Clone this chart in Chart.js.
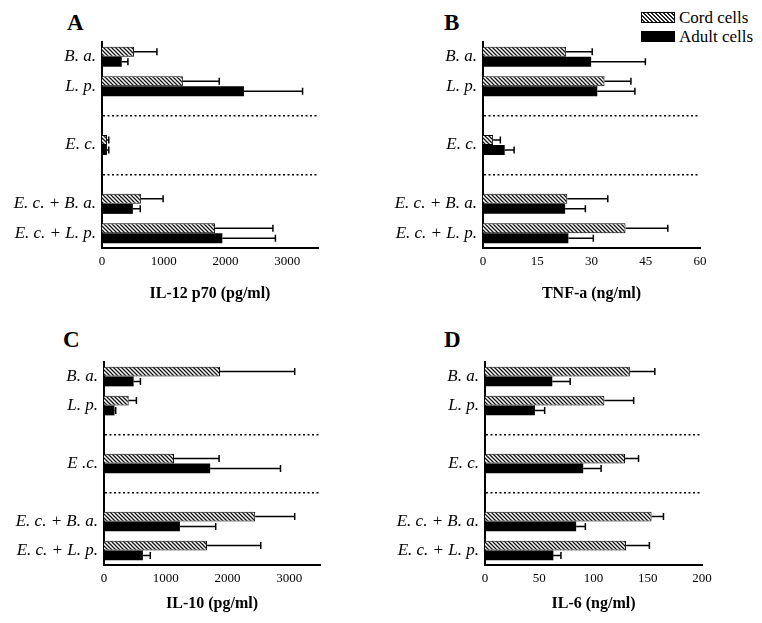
<!DOCTYPE html>
<html lang="en">
<head>
  <meta charset="UTF-8" />
  <title>Citocinas - cord vs adult cells</title>
  <script src="https://cdn.jsdelivr.net/npm/chart.js"></script>
  <style>
    body { margin: 0; background: #fff; font-family: 'Liberation Serif', 'Times New Roman', serif; }
    .painel { position: absolute; }
    .letra { position: absolute; font-size: 23px; font-weight: bold; line-height: 23px; color: #000; }
    .leg { position: absolute; font-size: 17px; line-height: 17px; color: #000; }
    .caixa { position: absolute; width: 32px; height: 9px; border: 1px solid #000; }
    .hatch { background: repeating-linear-gradient(45deg, #fff 0px, #fff 1.4px, #222 1.4px, #222 2.8px); }
  </style>
</head>
<body>
  <div class="letra" style="left:67px; top:11px">A</div>
  <div class="letra" style="left:444px; top:11px">B</div>
  <div class="letra" style="left:63px; top:328px">C</div>
  <div class="letra" style="left:444px; top:328px">D</div>

  <div class="caixa hatch" style="left:641px; top:12px"></div>
  <div class="leg" style="left:679px; top:9px">Cord cells</div>
  <div class="caixa" style="left:641px; top:31px; background:#000"></div>
  <div class="leg" style="left:679px; top:28px">Adult cells</div>

  <div class="painel" style="left:0px; top:0px; width:381px; height:310px"><canvas id="chartA"></canvas></div>
  <div class="painel" style="left:381px; top:0px; width:381px; height:310px"><canvas id="chartB"></canvas></div>
  <div class="painel" style="left:0px; top:310px; width:381px; height:313px"><canvas id="chartC"></canvas></div>
  <div class="painel" style="left:381px; top:310px; width:381px; height:313px"><canvas id="chartD"></canvas></div>

<script>
// categorias (linhas vazias = separadores pontilhados)
const estimulos = ['B. a.', 'L. p.', '', 'E. c.', '', 'E. c. + B. a.', 'E. c. + L. p.'];
const estimulosC = ['B. a.', 'L. p.', '', 'E .c.', '', 'E. c. + B. a.', 'E. c. + L. p.'];

// A - IL-12 p70 (pg/ml)
const cordA = [520, 1310, null, 80, null, 630, 1830];
const cordAsd = [370, 590, null, 30, null, 360, 940];
const adultA = [320, 2300, null, 80, null, 500, 1950];
const adultAsd = [100, 950, null, 30, null, 120, 860];
const ticksA = [0, 1000, 2000, 3000];

// B - TNF-a (ng/ml)
const cordB = [23.0, 33.6, null, 2.8, null, 23.3, 39.4];
const cordBsd = [7.2, 7.3, null, 2.0, null, 11.2, 11.7];
const adultB = [29.9, 31.6, null, 6.0, null, 22.7, 23.6];
const adultBsd = [15.0, 10.4, null, 2.6, null, 5.6, 6.9];
const ticksB = [0, 15, 30, 45, 60];

// C - IL-10 (pg/ml)
const cordC = [1880, 400, null, 1135, null, 2450, 1670];
const cordCsd = [1210, 125, null, 730, null, 640, 870];
const adultC = [480, 170, null, 1720, null, 1230, 630];
const adultCsd = [110, 20, null, 1140, null, 580, 120];
const ticksC = [0, 1000, 2000, 3000];

// D - IL-6 (ng/ml)
const cordD = [133.5, 110, null, 129, null, 153.5, 130];
const cordDsd = [23, 27, null, 12.5, null, 11, 21.5];
const adultD = [62, 46, null, 90.5, null, 84, 63];
const adultDsd = [16.5, 9, null, 16.5, null, 8.5, 7];
const ticksD = [0, 50, 100, 150, 200];

const serif = 'Liberation Serif';

// padrao hachurado das barras "cord"
function hachura() {
  const c = document.createElement('canvas');
  c.width = 4; c.height = 4;
  const g = c.getContext('2d');
  g.fillStyle = '#fff';
  g.fillRect(0, 0, 4, 4);
  g.strokeStyle = '#111';
  g.lineWidth = 1.3;
  g.beginPath();
  g.moveTo(-1, -1); g.lineTo(5, 5);
  g.moveTo(-1, 3); g.lineTo(1, 5);
  g.moveTo(3, -1); g.lineTo(5, 1);
  g.stroke();
  return g.createPattern(c, 'repeat');
}

// barras de erro (so o lado positivo)
const barrasErro = {
  id: 'barrasErro',
  afterDatasetsDraw(chart) {
    const ctx = chart.ctx;
    const x = chart.scales.x;
    chart.data.datasets.forEach((ds, d) => {
      const meta = chart.getDatasetMeta(d);
      meta.data.forEach((bar, i) => {
        if (ds.data[i] == null) return;
        const x2 = x.getPixelForValue(ds.data[i] + ds.sd[i]);
        ctx.save();
        ctx.strokeStyle = '#000';
        ctx.lineWidth = 1.5;
        ctx.beginPath();
        ctx.moveTo(bar.x, bar.y);
        ctx.lineTo(x2, bar.y);
        ctx.moveTo(x2, bar.y - 3.5);
        ctx.lineTo(x2, bar.y + 3.5);
        ctx.stroke();
        ctx.restore();
      });
    });
  }
};

function painel(id, labels, cord, cordSd, adult, adultSd, max, ticks, titulo, g) {
  new Chart(document.getElementById(id), {
    type: 'bar',
    data: {
      labels: labels,
      datasets: [
        { label: 'Cord cells', data: cord, sd: cordSd, backgroundColor: hachura(), borderColor: '#000', borderWidth: 1 },
        { label: 'Adult cells', data: adult, sd: adultSd, backgroundColor: '#000', borderColor: '#000', borderWidth: 0 }
      ]
    },
    options: {
      indexAxis: 'y',
      responsive: true,
      maintainAspectRatio: false,
      animation: false,
      barPercentage: 1,
      categoryPercentage: 0.68,
      layout: { padding: { top: g.top, right: g.right, left: 0, bottom: 0 } },
      plugins: { legend: { display: false }, tooltip: { enabled: false } },
      scales: {
        x: {
          min: 0,
          max: max,
          afterBuildTicks: (s) => { s.ticks = ticks.map(v => ({ value: v })); },
          afterFit: (s) => { s.height = g.xh; },
          grid: { display: false, drawTicks: false },
          border: { display: true, color: '#000', width: 2 },
          ticks: { color: '#000', padding: 6, maxRotation: 0, callback: (v) => String(v), font: { family: serif, size: 13 } },
          title: { display: true, text: titulo, color: '#000', padding: { top: 0, bottom: g.tb }, font: { family: serif, size: 16, weight: 'bold' } }
        },
        y: {
          afterFit: (s) => { s.width = g.left; },
          grid: {
            offset: false,
            drawTicks: false,
            lineWidth: 1.5,
            color: (c) => (c.index === 2 || c.index === 4) ? '#000' : 'rgba(0,0,0,0)'
          },
          border: { display: true, color: '#000', width: 2, dash: [2, 2.5] },
          ticks: { color: '#000', padding: 6, autoSkip: false, font: { family: serif, size: 17, style: 'italic' } }
        }
      }
    },
    plugins: [barrasErro]
  });
}

painel('chartA', estimulos, cordA, cordAsd, adultA, adultAsd, 3500, ticksA, 'IL-12 p70 (pg/ml)',
  { top: 42, right: 63, left: 102, xh: 62, tb: 7 });
painel('chartB', estimulos, cordB, cordBsd, adultB, adultBsd, 60, ticksB, 'TNF-a (ng/ml)',
  { top: 42, right: 62, left: 102, xh: 62, tb: 7 });
painel('chartC', estimulosC, cordC, cordCsd, adultC, adultCsd, 3500, ticksC, 'IL-10 (pg/ml)',
  { top: 52, right: 61, left: 104, xh: 58, tb: 10 });
painel('chartD', estimulos, cordD, cordDsd, adultD, adultDsd, 200, ticksD, 'IL-6 (ng/ml)',
  { top: 52, right: 60, left: 104, xh: 58, tb: 10 });
</script>
</body>
</html>
